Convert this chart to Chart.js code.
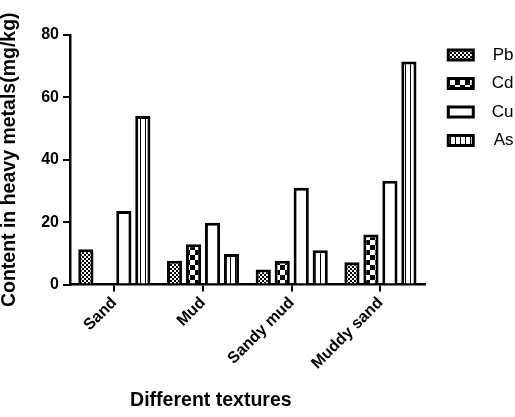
<!DOCTYPE html>
<html>
<head>
<meta charset="utf-8">
<script src="https://cdn.jsdelivr.net/npm/chart.js@4.4.1/dist/chart.umd.min.js"></script>
<style>
  html, body { margin: 0; padding: 0; background: #fff; }
  #wrap { width: 515px; height: 417px; }
</style>
</head>
<body>
<div id="wrap"><canvas id="c" width="515" height="417"></canvas></div>
<script>
const categories = ['Sand', 'Mud', 'Sandy mud', 'Muddy sand'];
const seriesNames = ['Pb', 'Cd', 'Cu', 'As'];
const pbValues = [11.3, 7.6, 4.8, 7.1];
const cdValues = [0, 12.9, 7.6, 16.0];
const cuValues = [23.6, 19.8, 31.0, 33.3];
const asValues = [54.0, 9.8, 11.0, 71.5];
const yTickValues = [0, 20, 40, 60, 80];
const yTitle = 'Content in heavy metals(mg/kg)';
const xTitle = 'Different textures';

const FONT = '"Liberation Sans", Arial, Helvetica, sans-serif';

function makePattern(w, h, draw) {
  const c = document.createElement('canvas');
  c.width = w; c.height = h;
  const g = c.getContext('2d');
  draw(g);
  return g.createPattern(c, 'repeat');
}
const ctxMain = document.getElementById('c').getContext('2d');
const patPb = makePattern(4, 4, g => {
  g.fillStyle = '#000'; g.fillRect(0, 0, 4, 4);
  g.fillStyle = '#fff'; g.fillRect(0, 0, 2, 2); g.fillRect(2, 2, 2, 2);
});
const patCd = makePattern(10, 10, g => {
  g.fillStyle = '#000'; g.fillRect(0, 0, 10, 10);
  g.fillStyle = '#fff'; g.fillRect(0, 0, 5, 5); g.fillRect(5, 5, 5, 5);
});
const patCu = '#ffffff';
const patAs = makePattern(5, 5, g => {
  g.fillStyle = '#fff'; g.fillRect(0, 0, 5, 5);
  g.fillStyle = '#000'; g.fillRect(0, 0, 1, 5);
});

const seriesValues = [pbValues, cdValues, cuValues, asValues];
const fills = [patPb, patCd, patCu, patAs];

const datasets = seriesNames.map((name, i) => ({
  label: name,
  data: seriesValues[i],
  backgroundColor: fills[i],
  borderColor: '#000',
  borderWidth: 3,
  categoryPercentage: 0.856,
  barPercentage: 0.8
}));

const xTitlePlugin = {
  id: 'xTitlePlugin',
  afterDraw(chart) {
    const a = chart.chartArea;
    const c = chart.ctx;
    c.save();
    c.font = 'bold 19.5px ' + FONT;
    c.fillStyle = '#000';
    c.textAlign = 'center';
    c.textBaseline = 'middle';
    c.fillText(xTitle, a.left + (a.right - a.left) * 0.397, chart.height - 16);
    c.restore();
  }
};

new Chart(ctxMain, {
  type: 'bar',
  data: { labels: categories, datasets },
  plugins: [xTitlePlugin],
  options: {
    responsive: false,
    animation: false,
    layout: { padding: { top: 35, left: 0, right: 1.5, bottom: 0 } },
    plugins: {
      tooltip: { enabled: false },
      legend: {
        position: 'right',
        align: 'start',
        labels: {
          boxWidth: 25,
          boxHeight: 10,
          padding: 11.5,
          color: '#000',
          textAlign: 'right',
          font: { family: FONT, size: 17 }
        }
      }
    },
    scales: {
      x: {
        grid: { display: true, offset: false, drawOnChartArea: false, drawTicks: true, tickLength: 7, color: '#000', lineWidth: 2 },
        border: { display: true, color: '#000', width: 2.5 },
        ticks: { color: '#000', font: { family: FONT, size: 16, weight: 'bold' }, minRotation: 45, maxRotation: 45, padding: 2 },
        afterFit(s) { s.height = 132.5; }
      },
      y: {
        min: yTickValues[0],
        max: yTickValues[yTickValues.length - 1],
        afterBuildTicks(s) { s.ticks = yTickValues.map(v => ({ value: v })); },
        grid: { display: true, drawOnChartArea: false, drawTicks: true, tickLength: 7, color: '#000', lineWidth: 2 },
        border: { display: true, color: '#000', width: 2.5 },
        ticks: { color: '#000', font: { family: FONT, size: 16, weight: 'bold' }, padding: 4 },
        title: {
          display: true,
          text: yTitle,
          color: '#000',
          font: { family: FONT, size: 19.5, weight: 'bold', lineHeight: 1 },
          padding: { top: 0, bottom: 0 }
        },
        afterFit(s) { s.width = 70; }
      },
      yGap: {
        type: 'linear',
        position: 'right',
        display: true,
        grid: { display: false },
        border: { display: false },
        ticks: { display: false },
        afterFit(s) { s.width = 12; }
      }
    }
  }
});
</script>
</body>
</html>
